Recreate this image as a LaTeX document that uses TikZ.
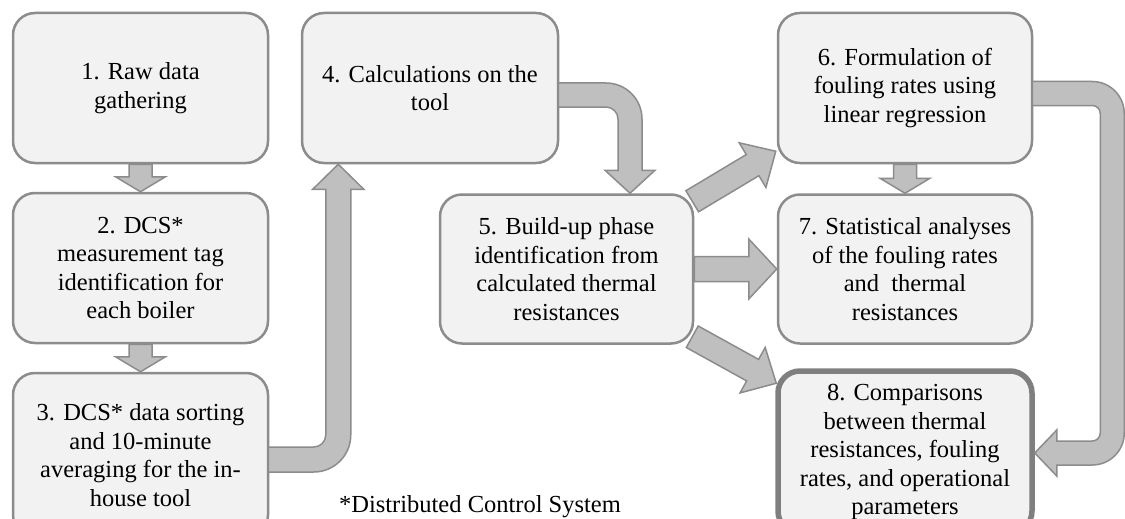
\documentclass[tikz,border=0pt]{standalone}
\usepackage{fontspec}
\setmainfont{Liberation Serif}
\usetikzlibrary{calc}
\definecolor{boxfill}{HTML}{F2F2F2}
\definecolor{boxline}{HTML}{8C8C8C}
\definecolor{boxlinedark}{HTML}{7F7F7F}
\definecolor{arrfill}{HTML}{BFBFBF}
\definecolor{arrline}{HTML}{8C8C8C}
\newcommand{\blkarrow}[5]{%
  \coordinate (baA) at (#1);
  \coordinate (baB) at (#2);
  \coordinate (baC) at ($(baB)!#5!(baA)$);
  \draw[blockarr] ($(baA)!#3!90:(baB)$) -- ($(baC)!#3!90:(baB)$) -- ($(baC)!#4!90:(baB)$)
    -- (baB) -- ($(baC)!#4!-90:(baB)$) -- ($(baC)!#3!-90:(baB)$) -- ($(baA)!#3!-90:(baB)$) -- cycle;}
\begin{document}
\begin{tikzpicture}[x=1pt,y=1pt,
  box/.style={draw=boxline, line width=2.5pt, fill=boxfill, rounded corners=22pt,
    minimum height=150pt, align=center, inner sep=0pt,
    font=\fontsize{24.5}{28.5}\selectfont},
  blockarr/.style={draw=arrline, fill=arrfill, line width=1.5pt, line join=miter}]
\useasboundingbox (0,0) rectangle (1125,-519);
\node[box, minimum width=255pt] (b1) at (140.5,-88) {1. Raw data\\gathering};
\node[box, minimum width=255pt] (b2) at (140.5,-268) {2. DCS*\\measurement tag\\identification for\\each boiler};
\node[box, minimum width=255pt, minimum height=164pt] (b3) at (140.5,-455) {3. DCS* data sorting\\and 10-minute\\averaging for the in-\\house tool};
\node[box, minimum width=256pt] (b4) at (430,-88) {4. Calculations on the\\tool};
\node[box, minimum width=253pt, minimum height=149pt] (b5) at (566.5,-269) {5. Build-up phase\\identification from\\calculated thermal\\resistances};
\node[box, minimum width=254pt] (b6) at (905,-88) {6. Formulation of\\fouling rates using\\linear regression};
\node[box, minimum width=254pt, minimum height=149pt] (b7) at (905,-269) {7. Statistical analyses\\of the fouling rates\\and\ \ thermal\\resistances};
\node[box, minimum width=254pt, minimum height=162pt, line width=5.5pt, draw=boxlinedark] (b8) at (905,-452) {8. Comparisons\\between thermal\\resistances, fouling\\rates, and operational\\parameters};
\node[font=\fontsize{24.5}{28.5}\selectfont, anchor=base, inner sep=0pt] (fn) at (480,-512) {*Distributed Control System};
% straight arrows
\blkarrow{b1.south}{b2.north}{11.5pt}{25pt}{15pt}
\blkarrow{b2.south}{b3.north}{11.5pt}{25pt}{15pt}
\blkarrow{b6.south}{b7.north}{11.5pt}{25pt}{15pt}
\blkarrow{b5.east}{b7.west}{12.5pt}{30pt}{28pt}
\blkarrow{$(b5.north east)+(-2,-8)$}{$(b6.south west)+(-1,13)$}{12.3pt}{26pt}{27pt}
\blkarrow{$(b5.south east)+(-2,8)$}{$(b8.north west)+(1,-15)$}{12.3pt}{26pt}{27pt}
% bent arrow 3 -> 4
\draw[blockarr] let \p1=($(b3.east)+(-1,-4.5)$), \p2=($(b4.south west)+(37.5,0)$) in
  (\x1,\y1+12.5pt) -- ({\x2-24.5pt},\y1+12.5pt) arc[start angle=-90,end angle=0,radius=12pt]
  -- ({\x2-12.5pt},\y2-25pt) -- ({\x2-25.5pt},\y2-25pt) -- (\x2,\y2) -- ({\x2+25.5pt},\y2-25pt)
  -- ({\x2+12.5pt},\y2-25pt) -- ({\x2+12.5pt},\y1+24.5pt) arc[start angle=0,end angle=-90,radius=37pt]
  -- (\x1,\y1-12.5pt) -- cycle;
% bent arrow 4 -> 5
\draw[blockarr] let \p1=($(b4.east)+(-1,-7)$), \p2=($(b5.north)+(63.5,0)$) in
  (\x1,\y1+12pt) -- ({\x2-24pt},\y1+12pt) arc[start angle=90,end angle=0,radius=36pt]
  -- ({\x2+12pt},\y2+23pt) -- ({\x2+25pt},\y2+23pt) -- (\x2,\y2) -- ({\x2-25pt},\y2+23pt)
  -- ({\x2-12pt},\y2+23pt) -- ({\x2-12pt},\y1-24pt) arc[start angle=0,end angle=90,radius=12pt]
  -- (\x1,\y1-12pt) -- cycle;
% bent arrow 6 -> 8
\draw[blockarr] let \p1=($(b6.east)+(-1,-5.5)$), \p2=($(b8.east)+(0,-1)$), \p3=($(b6.east)+(79,0)$) in
  (\x1,\y1+12pt) -- ({\x3-20pt},\y1+12pt) arc[start angle=90,end angle=0,radius=32pt]
  -- ({\x3+12pt},{\y2+20pt}) arc[start angle=0,end angle=-90,radius=32pt]
  -- ({\x2+22pt},\y2-12pt) -- ({\x2+22pt},\y2-23pt) -- (\x2,\y2) -- ({\x2+22pt},\y2+23pt)
  -- ({\x2+22pt},\y2+12pt) -- ({\x3-20pt},\y2+12pt) arc[start angle=-90,end angle=0,radius=8pt]
  -- ({\x3-12pt},\y1-20pt) arc[start angle=0,end angle=90,radius=8pt]
  -- (\x1,\y1-12pt) -- cycle;
\end{tikzpicture}
\end{document}
